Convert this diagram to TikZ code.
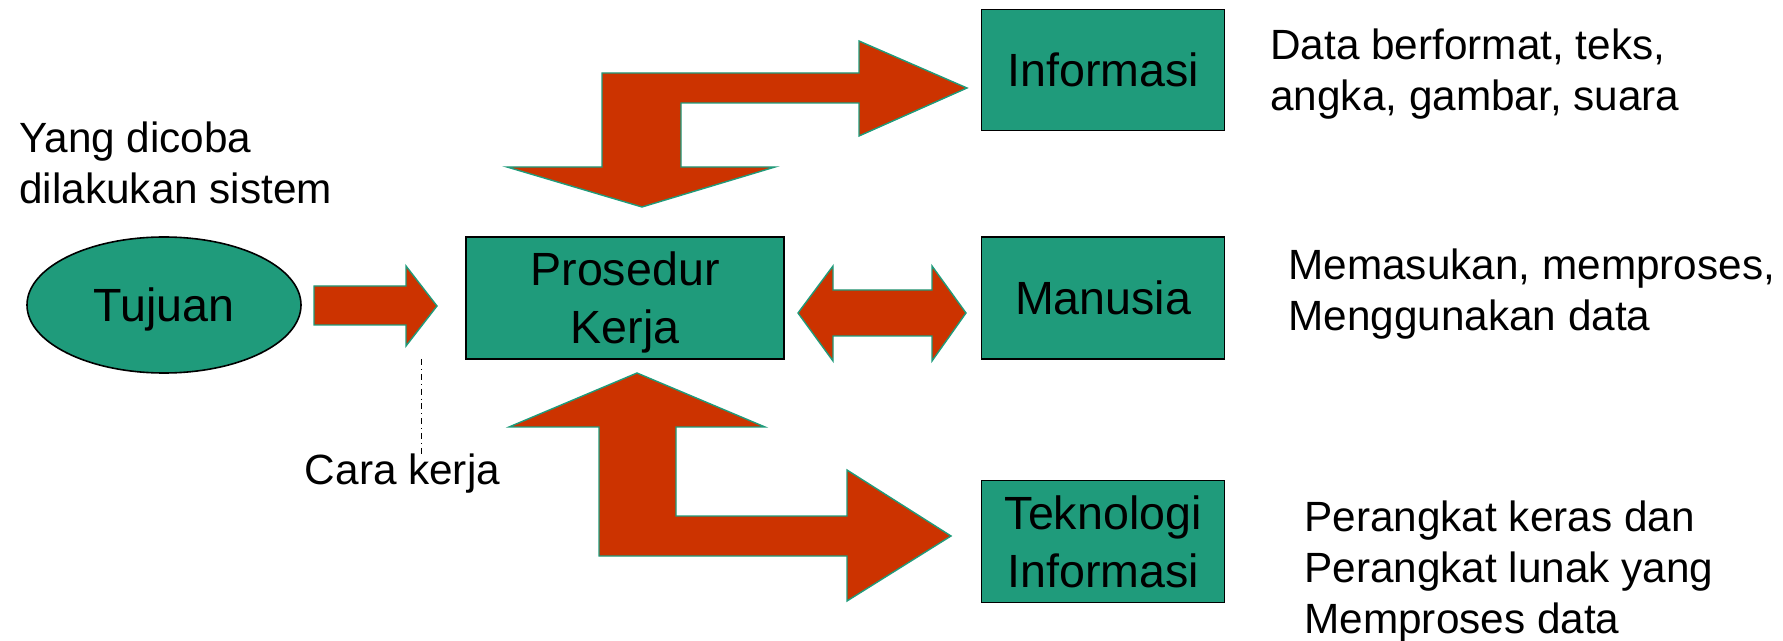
\documentclass[tikz,border=0pt]{standalone}
\usepackage{fontspec}
\setmainfont{Liberation Sans}
\usetikzlibrary{shapes.geometric, positioning, calc}

\definecolor{boxgreen}{RGB}{31,155,123}
\definecolor{arrowred}{RGB}{204,51,0}

\tikzset{
  box/.style={draw, line width=0.8pt, fill=boxgreen, align=center,
              inner sep=0pt, minimum height=61pt, text depth=0pt,
              font=\fontsize{23.3}{29}\selectfont},
  note/.style={align=left, inner sep=0pt, anchor=west,
               font=\fontsize{21.15}{25.5}\selectfont},
  blockarrow/.style={fill=arrowred, draw=boxgreen, line width=0.7pt,
                     line join=miter},
}

\begin{document}
\begin{tikzpicture}[x=0.5pt, y=-0.5pt]
  \useasboundingbox (0,0) rectangle (1783,641);

  % boxes
  \node[box, minimum width=159pt] (proc) at (625,298) {Prosedur\\Kerja};
  \node[box, minimum width=121.5pt, right=98pt of proc] (manusia) {Manusia};
  \node[box, minimum width=121.5pt, minimum height=60.5pt,
        above=52.5pt of manusia] (info) {Informasi};
  \node[box, minimum width=121.5pt, below=60pt of manusia] (tek)
    {Teknologi\\Informasi};
  \node[ellipse, draw, line width=0.8pt, fill=boxgreen, inner sep=0pt,
        minimum width=137pt, minimum height=68pt, text depth=0pt,
        font=\fontsize{23.3}{29}\selectfont] (tujuan) at (164,305) {Tujuan};

  % block arrows
  \draw[blockarrow] (314,286) -- (406,286) -- (406,266) -- (437,306)
    -- (406,346) -- (406,325) -- (314,325) -- cycle;
  \draw[blockarrow] (798,313) -- (833,266) -- (833,290) -- (932,290)
    -- (932,266) -- (966,313) -- (932,361) -- (932,336) -- (833,336)
    -- (833,361) -- cycle;
  \draw[blockarrow] (642,207) -- (775,167) -- (681,167) -- (681,103)
    -- (859,103) -- (859,136) -- (967,88) -- (859,41) -- (859,73)
    -- (602,73) -- (602,167) -- (507,167) -- cycle;
  \draw[blockarrow] (637,373) -- (765,427) -- (676,427) -- (676,516)
    -- (847,516) -- (847,470) -- (951,536) -- (847,601) -- (847,556)
    -- (599,556) -- (599,427) -- (509,427) -- cycle;

  % notes
  \node[note] (goal) at (19,163) {Yang dicoba\\dilakukan sistem};
  \node[note, anchor=base] (cara) at (402.5,485) {Cara kerja};
  \node[note] (infonote) at (1270,74) {Data berformat, teks,\\angka, gambar, suara};
  \node[note] (mannote) at (1288,294) {Memasukan, memproses,\\Menggunakan data};
  \node[note] (teknote) at (1304,572)
    {Perangkat keras dan\\Perangkat lunak yang\\Memproses data};

  \coordinate (tipnote) at (421,359);
  \draw[dash dot, line width=0.5pt] (tipnote) -- (tipnote |- cara.north);
\end{tikzpicture}
\end{document}
